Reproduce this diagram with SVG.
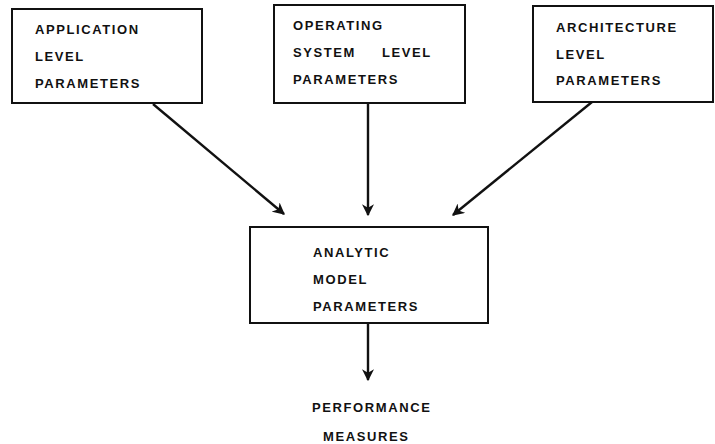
<svg xmlns="http://www.w3.org/2000/svg" width="715" height="444" viewBox="0 0 715 444">
<style>
.box{fill:none;stroke:#111;stroke-width:2}
.t{font-family:"Liberation Sans",Arial,sans-serif;font-weight:bold;font-size:13px;letter-spacing:1.6px;fill:#111}
.c{stroke:#111;stroke-width:2.4;fill:none}
</style>
<defs>
<marker id="ah" viewBox="0 0 10 10" refX="9" refY="5" markerWidth="5" markerHeight="5" orient="auto" markerUnits="strokeWidth">
<path d="M0,0 L10,5 L0,10 L3,5 Z" fill="#111"/>
</marker>
</defs>
<rect width="715" height="444" fill="#fff"/>
<g id="app">
<rect class="box" x="12" y="9" width="190" height="94"/>
<text class="t" x="35" y="34">APPLICATION</text>
<text class="t" x="35" y="61">LEVEL</text>
<text class="t" x="35" y="88">PARAMETERS</text>
</g>
<g id="os">
<rect class="box" x="274" y="5" width="191" height="98"/>
<text class="t" x="293" y="30">OPERATING</text>
<text class="t" x="293" y="57">SYSTEM</text>
<text class="t" x="382" y="57">LEVEL</text>
<text class="t" x="293" y="84">PARAMETERS</text>
</g>
<g id="arch">
<rect class="box" x="533" y="6" width="180" height="96"/>
<text class="t" x="556" y="32">ARCHITECTURE</text>
<text class="t" x="556" y="59">LEVEL</text>
<text class="t" x="556" y="85">PARAMETERS</text>
</g>
<g id="analytic">
<rect class="box" x="250" y="227" width="238" height="96"/>
<text class="t" x="313" y="257">ANALYTIC</text>
<text class="t" x="313" y="284">MODEL</text>
<text class="t" x="313" y="311">PARAMETERS</text>
</g>
<g id="perf">
<text class="t" x="312" y="412">PERFORMANCE</text>
<text class="t" x="323" y="441">MEASURES</text>
</g>
<g id="connectors">
<line class="c" x1="153" y1="104" x2="284" y2="214" marker-end="url(#ah)"/>
<line class="c" x1="368" y1="103" x2="368" y2="215" marker-end="url(#ah)"/>
<line class="c" x1="592" y1="102" x2="453" y2="215" marker-end="url(#ah)"/>
<line class="c" x1="368" y1="323" x2="368" y2="380" marker-end="url(#ah)"/>
</g>
</svg>
